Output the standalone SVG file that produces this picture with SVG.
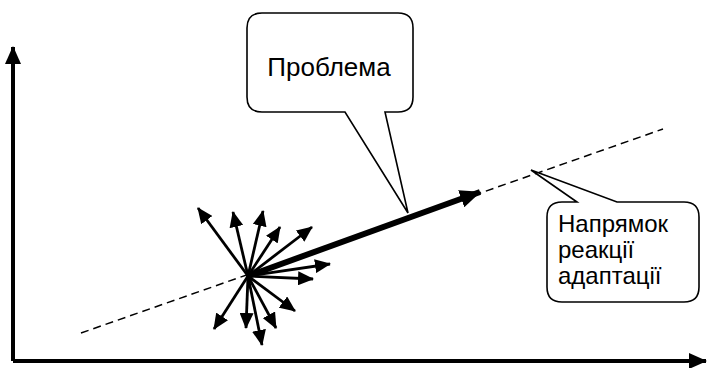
<svg xmlns="http://www.w3.org/2000/svg" width="709" height="368" viewBox="0 0 709 368">
  <style>
    .axis { stroke: #000; stroke-width: 4; fill: none; }
    .vec { stroke: #000; stroke-width: 2.8; fill: none; marker-end: url(#head); }
    .main { stroke: #000; stroke-width: 6; fill: none; marker-end: url(#bighead); }
    .dash { stroke: #000; stroke-width: 1.5; stroke-dasharray: 8 5; fill: none; }
    .callout { stroke: #000; stroke-width: 1.6; fill: #fff; stroke-linejoin: miter; }
    .lbl { font-family: "Liberation Sans", Arial, sans-serif; fill: #000; }
  </style>
  <defs>
    <marker id="head" markerUnits="userSpaceOnUse" markerWidth="16" markerHeight="14" refX="15" refY="7" orient="auto">
      <path d="M0,0 L16,7 L0,14 z" fill="#000"/>
    </marker>
    <marker id="bighead" markerUnits="userSpaceOnUse" markerWidth="21" markerHeight="18" refX="20" refY="9" orient="auto">
      <path d="M0,0 L21,9 L0,18 z" fill="#000"/>
    </marker>
    <marker id="axhead" markerUnits="userSpaceOnUse" markerWidth="18" markerHeight="16" refX="17" refY="8" orient="auto">
      <path d="M0,0 L18,8 L0,16 z" fill="#000"/>
    </marker>
  </defs>

  <g id="connectors">
    <g id="axes">
      <path class="axis" d="M13,361 L13,47" marker-end="url(#axhead)"/>
      <path class="axis" d="M13,361 L706,361" marker-end="url(#axhead)"/>
    </g>
    <path id="direction-line" class="dash" d="M81,333 L663,129"/>
    <g id="vectors">
      <line class="vec" x1="248" y1="276" x2="198" y2="208"/>
      <line class="vec" x1="248" y1="276" x2="233" y2="212"/>
      <line class="vec" x1="248" y1="276" x2="263" y2="211"/>
      <line class="vec" x1="248" y1="276" x2="280" y2="227"/>
      <line class="vec" x1="248" y1="276" x2="312" y2="227"/>
      <line class="vec" x1="248" y1="276" x2="330" y2="264"/>
      <line class="vec" x1="248" y1="276" x2="313" y2="279"/>
      <line class="vec" x1="248" y1="276" x2="295" y2="311"/>
      <line class="vec" x1="248" y1="276" x2="276" y2="328"/>
      <line class="vec" x1="248" y1="276" x2="262" y2="345"/>
      <line class="vec" x1="248" y1="276" x2="246" y2="328"/>
      <line class="vec" x1="248" y1="276" x2="214" y2="329"/>
    </g>
    <line id="main-vector" class="main" x1="248" y1="276" x2="480" y2="192"/>
  </g>

  <g id="node-problem">
    <path class="callout" d="M262,13 L398,13 Q413,13 413,28 L413,97 Q413,112 398,112 L385,112 L408,213 L345,112 L262,112 Q247,112 247,97 L247,28 Q247,13 262,13 Z"/>
    <text class="lbl" x="329" y="76" font-size="26" text-anchor="middle">Проблема</text>
  </g>

  <g id="node-direction">
    <path class="callout" d="M562,202 L577,202 L531,170 L617,202 L684,202 Q699,202 699,217 L699,287 Q699,302 684,302 L562,302 Q547,302 547,287 L547,217 Q547,202 562,202 Z"/>
    <text class="lbl" x="558" y="232" font-size="24">Напрямок</text>
    <text class="lbl" x="558" y="258" font-size="24">реакції</text>
    <text class="lbl" x="558" y="284" font-size="24">адаптації</text>
  </g>
</svg>
